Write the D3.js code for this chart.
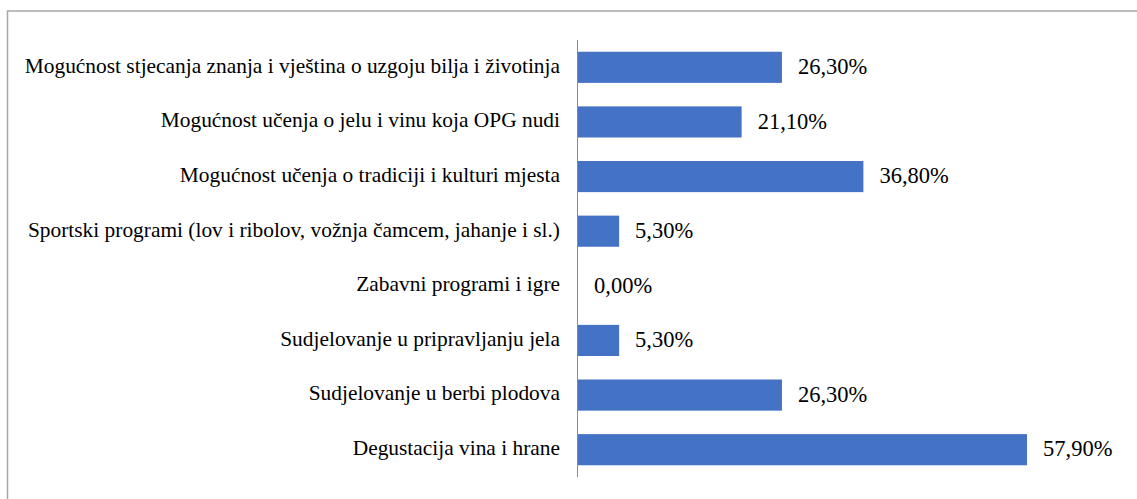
<!DOCTYPE html>
<html>
<head>
<meta charset="utf-8">
<script src="https://cdn.jsdelivr.net/npm/d3@7"></script>
<style>
  body { margin: 0; background: #fff; font-family: "Times New Roman", "Liberation Serif", Tinos, Times, serif; }
  svg text { font-family: "Times New Roman", "Liberation Serif", Tinos, Times, serif; }
</style>
</head>
<body>
<script>
/* Horizontal bar chart: aktivnosti na OPG-u */

const categories = [
  "Mogućnost stjecanja znanja i vještina o uzgoju bilja i životinja",
  "Mogućnost učenja o jelu i vinu koja OPG nudi",
  "Mogućnost učenja o tradiciji i kulturi mjesta",
  "Sportski programi (lov i ribolov, vožnja čamcem, jahanje i sl.)",
  "Zabavni programi i igre",
  "Sudjelovanje u pripravljanju jela",
  "Sudjelovanje u berbi plodova",
  "Degustacija vina i hrane"
];
const values = [26.3, 21.1, 36.8, 5.3, 0.0, 5.3, 26.3, 57.9];
const valueLabels = ["26,30%", "21,10%", "36,80%", "5,30%", "0,00%", "5,30%", "26,30%", "57,90%"];

const width = 1137,
  height = 499;

const data = categories.map((c, i) => ({ cat: c, value: values[i], label: valueLabels[i] }));

const x = d3.scaleLinear().domain([0, 60]).range([578, 1043.3]);
const y = d3.scaleBand().domain(categories).range([40, 477]).paddingInner(0.43).paddingOuter(0.215);

const svg = d3.select("body")
  .append("svg")
  .attr("width", width)
  .attr("height", height);

// outer frame (runs off the right and bottom edges)
svg.append("rect")
  .attr("x", 7.5)
  .attr("y", 11)
  .attr("width", width + 20)
  .attr("height", height + 20)
  .attr("fill", "none")
  .attr("stroke", "#a6a6a6")
  .attr("stroke-width", 1.5);

svg.append("g")
  .selectAll("rect")
  .data(data)
  .join("rect")
  .attr("x", x(0))
  .attr("y", d => y(d.cat))
  .attr("width", d => x(d.value) - x(0))
  .attr("height", y.bandwidth())
  .attr("fill", "#4472c4");

// category axis line
svg.append("line")
  .attr("x1", x(0) - 0.5)
  .attr("x2", x(0) - 0.5)
  .attr("y1", 40)
  .attr("y2", 477)
  .attr("stroke", "#8c8c8c")
  .attr("stroke-width", 1);

svg.append("g")
  .selectAll("text")
  .data(data)
  .join("text")
  .attr("font-size", 21.4)
  .attr("text-anchor", "end")
  .attr("fill", "#000")
  .attr("x", 560)
  .attr("y", d => y(d.cat) + y.bandwidth() / 2)
  .attr("dy", "0.25em")
  .text(d => d.cat);

svg.append("g")
  .selectAll("text")
  .data(data)
  .join("text")
  .attr("font-size", 22.5)
  .attr("fill", "#000")
  .attr("x", d => x(d.value) + 16)
  .attr("y", d => y(d.cat) + y.bandwidth() / 2)
  .attr("dy", "0.3em")
  .text(d => d.label);
</script>
</body>
</html>
